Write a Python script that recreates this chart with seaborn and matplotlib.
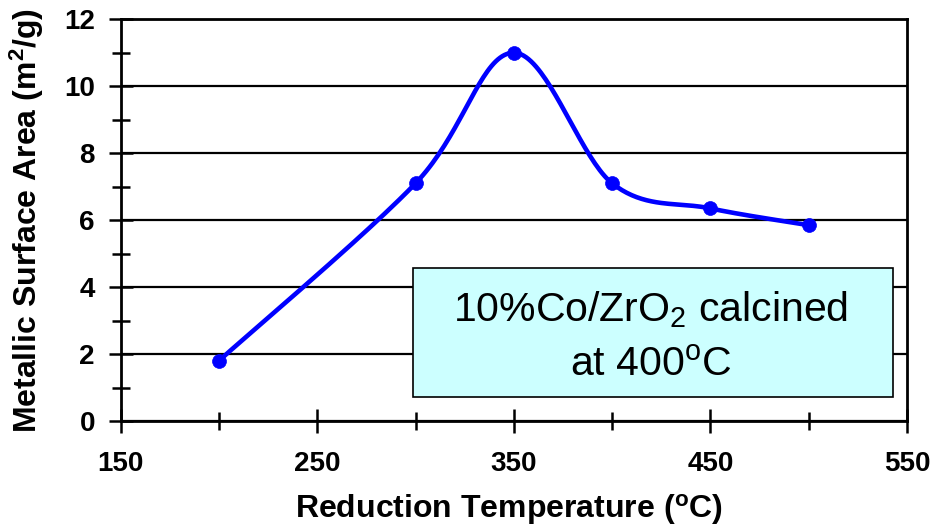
import numpy as np
import pandas as pd
import matplotlib
matplotlib.use("Agg")
import matplotlib.pyplot as plt
from matplotlib.patches import Rectangle
import seaborn as sns

# Measured metallic surface area vs. reduction temperature
temperature = [200, 300, 350, 400, 450, 500]
surface_area = [1.8, 7.1, 11.0, 7.1, 6.35, 5.85]

x_ticks = [150, 250, 350, 450, 550]
x_minor_ticks = [200, 300, 400, 500]
y_ticks = [0, 2, 4, 6, 8, 10, 12]
y_minor_ticks = [1, 3, 5, 7, 9, 11]

x_label = r"Reduction Temperature ($^{\mathbf{o}}$C)"
y_label = r"Metallic Surface Area (m$^{\mathbf{2}}$/g)"
box_line1 = r"10%Co/ZrO$_{\mathrm{2}}$ calcined"
box_line2 = r"at 400$^{\mathrm{o}}$C"


def smooth_curve(xs, ys, steps=40):
    """Piecewise cubic Bezier through the points (spreadsheet-style smoothing)."""
    pts = np.column_stack([xs, ys]).astype(float)
    n = len(pts)
    out = []
    for i in range(n - 1):
        p0 = pts[max(i - 1, 0)]
        p1 = pts[i]
        p2 = pts[i + 1]
        p3 = pts[min(i + 2, n - 1)]
        b1 = p1 + (p2 - p0) / 6.0
        b2 = p2 - (p3 - p1) / 6.0
        t = np.linspace(0, 1, steps, endpoint=(i == n - 2))[:, None]
        seg = ((1 - t) ** 3) * p1 + 3 * ((1 - t) ** 2) * t * b1 \
            + 3 * (1 - t) * t ** 2 * b2 + t ** 3 * p2
        out.append(seg)
    c = np.vstack(out)
    return c[:, 0], c[:, 1]


sns.set_theme(style="white")
plt.rcParams["font.family"] = ["Liberation Sans", "DejaVu Sans"]
plt.rcParams["mathtext.fontset"] = "custom"
plt.rcParams["mathtext.rm"] = "Liberation Sans"
plt.rcParams["mathtext.bf"] = "Liberation Sans:bold"
plt.rcParams["mathtext.it"] = "Liberation Sans:italic"

fig = plt.figure(figsize=(9.37, 5.31), dpi=100)
ax = fig.add_axes([0.1288, 0.2072, 0.968 - 0.1288, 0.9637 - 0.2072])

cx, cy = smooth_curve(temperature, surface_area)
curve = pd.DataFrame({"T": cx, "A": cy})
points = pd.DataFrame({"T": temperature, "A": surface_area})

sns.lineplot(data=curve, x="T", y="A", sort=False, color="#0000FF",
             linewidth=3.3, ax=ax, zorder=4)
sns.scatterplot(data=points, x="T", y="A", color="#0000FF", s=100,
                edgecolor="#0000FF", linewidth=0.5, ax=ax, zorder=5)

ax.set_xlim(150, 550)
ax.set_ylim(0, 12)
ax.set_xticks(x_ticks)
ax.set_yticks(y_ticks)
ax.set_xticks(x_minor_ticks, minor=True)
ax.set_yticks(y_minor_ticks, minor=True)

ax.grid(False)
ax.yaxis.grid(True, which="major", color="black", linewidth=1.6, zorder=1)

for side in ["left", "bottom", "right", "top"]:
    ax.spines[side].set_visible(True)
    ax.spines[side].set_color("black")
    ax.spines[side].set_linewidth(2.0)

ax.tick_params(axis="both", which="both", bottom=True, left=True,
               top=False, right=False)
ax.tick_params(axis="both", which="major", direction="inout", length=17,
               width=1.8, color="black", labelsize=20, labelcolor="black")
ax.tick_params(axis="both", which="minor", direction="inout", length=13,
               width=1.8, color="black")
ax.tick_params(axis="x", which="major", pad=13)
ax.tick_params(axis="y", which="major", pad=10)
for lab in ax.get_xticklabels() + ax.get_yticklabels():
    lab.set_fontweight("bold")

ax.set_xlabel(x_label, fontsize=23, fontweight="bold", color="black")
ax.set_ylabel(y_label, fontsize=23, fontweight="bold", color="black")
ax.xaxis.label.set_va("center")
ax.yaxis.label.set_va("center")
ax.xaxis.set_label_coords(0.4935, -0.220)
ax.yaxis.set_label_coords(-0.119, 0.50)

# Annotation box describing the catalyst
box = Rectangle((298.7, 0.72), 542.8 - 298.7, 4.57 - 0.72,
                facecolor="#CCFFFF", edgecolor="black", linewidth=1.2,
                zorder=6)
ax.add_patch(box)
ax.text(419.5, 2.97, box_line1, ha="center", va="baseline", fontsize=29.5,
        color="black", zorder=7)
ax.text(419.5, 1.37, box_line2, ha="center", va="baseline", fontsize=29.5,
        color="black", zorder=7)

fig.savefig("out.png", dpi=100, facecolor="white")
